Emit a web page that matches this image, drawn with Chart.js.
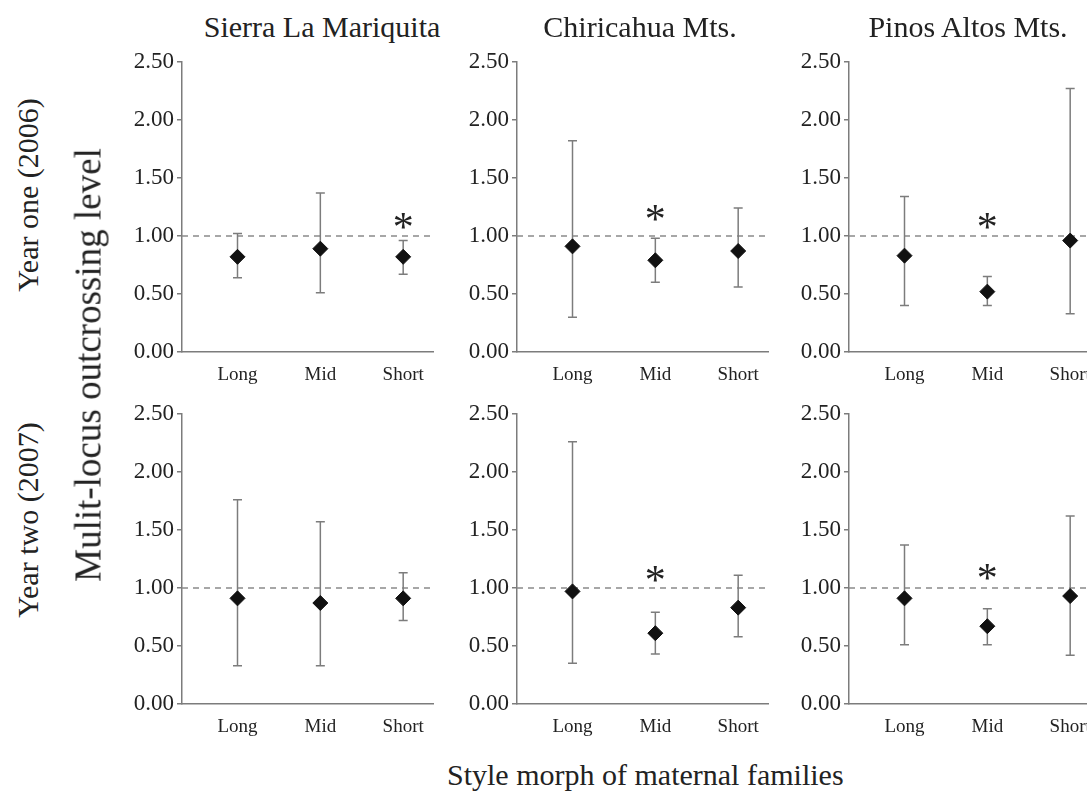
<!DOCTYPE html>
<html><head><meta charset="utf-8">
<script src="https://cdn.jsdelivr.net/npm/chart.js@4.4.1/dist/chart.umd.min.js"></script>
<style>
html,body{margin:0;padding:0;background:#fff;}
body{width:1087px;height:792px;overflow:hidden;position:relative;}
.panel{position:absolute;}
.txt{position:absolute;white-space:nowrap;font-family:"Liberation Serif","Times New Roman",serif;color:#222;line-height:1;}
.ctr{transform:translateX(-50%);}
.rot{transform:translate(-50%,-50%) rotate(-90deg);}
</style></head><body>
<script>
// ---- data ----
const categories = ['Long', 'Mid', 'Short'];
const sites = ['Sierra La Mariquita', 'Chiricahua Mts.', 'Pinos Altos Mts.'];
const years = ['Year one (2006)', 'Year two (2007)'];
const yAxisTitle = 'Mulit-locus outcrossing level';
const xAxisTitle = 'Style morph of maternal families';
const yTickValues = [0, 0.5, 1, 1.5, 2, 2.5];
const refLevel = 1.0;

// per site: [Long, Mid, Short]
const mean2006  = [[0.82, 0.89, 0.82], [0.91, 0.79, 0.87], [0.83, 0.52, 0.96]];
const upper2006 = [[1.02, 1.37, 0.96], [1.82, 0.98, 1.24], [1.34, 0.65, 2.27]];
const lower2006 = [[0.64, 0.51, 0.67], [0.30, 0.60, 0.56], [0.40, 0.40, 0.33]];
const star2006  = [[null, null, 1.13], [null, 1.20, null], [null, 1.13, null]];

const mean2007  = [[0.91, 0.87, 0.91], [0.97, 0.61, 0.83], [0.91, 0.67, 0.93]];
const upper2007 = [[1.76, 1.57, 1.13], [2.26, 0.79, 1.11], [1.37, 0.82, 1.62]];
const lower2007 = [[0.33, 0.33, 0.72], [0.35, 0.43, 0.58], [0.51, 0.51, 0.42]];
const star2007  = [[null, null, null], [null, 1.12, null], [null, 1.14, null]];

// ---- layout ----
const X_MIN = 0.33, X_MAX = 3.36;
const colLeft = [182, 517, 849];
const rowTop = [60, 412];
const PLOT_W = 251, PLOT_H = 292;
const YAXIS_W = 80, XAXIS_H = 35, PAD_T = 15, PAD_R = 10;
const FONT = '"Liberation Serif","Times New Roman",serif';
const AXIS_GRAY = '#7c7c7c';
const TEXT_COL = '#222';

const starPlugin = {
  id: 'stars',
  afterDatasetsDraw(chart, args, opts) {
    const xs = chart.scales.x, ys = chart.scales.y, ctx = chart.ctx;
    ctx.save();
    ctx.font = opts.font;
    ctx.fillStyle = opts.color;
    ctx.textAlign = 'center';
    ctx.textBaseline = 'alphabetic';
    const m = ctx.measureText('*');
    const off = (m.actualBoundingBoxAscent - m.actualBoundingBoxDescent) / 2;
    (opts.values || []).forEach((v, i) => {
      if (v == null) return;
      ctx.fillText('*', xs.getPixelForValue(i + 1), ys.getPixelForValue(v) + off);
    });
    ctx.restore();
  }
};

function addText(str, x, y, size, cls) {
  const d = document.createElement('div');
  d.className = 'txt' + (cls ? ' ' + cls : '');
  d.textContent = str;
  d.style.left = x + 'px';
  d.style.top = y + 'px';
  d.style.fontSize = size + 'px';
  document.body.appendChild(d);
}

function makePanel(r, c) {
  const mean = (r === 0 ? mean2006 : mean2007)[c];
  const upper = (r === 0 ? upper2006 : upper2007)[c];
  const lower = (r === 0 ? lower2006 : lower2007)[c];
  const stars = (r === 0 ? star2006 : star2007)[c];

  const stems = [], caps = [];
  categories.forEach((_, i) => {
    stems.push({x: i + 1, y: lower[i]}, {x: i + 1, y: upper[i]}, {x: i + 1, y: null});
    caps.push({x: i + 1, y: lower[i]}, {x: i + 1, y: upper[i]});
  });
  const pts = mean.map((v, i) => ({x: i + 1, y: v}));

  const W = YAXIS_W + PLOT_W + PAD_R, H = PAD_T + PLOT_H + XAXIS_H;
  const cv = document.createElement('canvas');
  cv.className = 'panel';
  cv.width = W; cv.height = H;
  cv.style.width = W + 'px'; cv.style.height = H + 'px';
  cv.style.left = (colLeft[c] - YAXIS_W) + 'px';
  cv.style.top = (rowTop[r] - PAD_T) + 'px';
  document.body.appendChild(cv);

  new Chart(cv, {
    type: 'scatter',
    data: {
      datasets: [
        {type: 'line', data: [{x: X_MIN, y: refLevel}, {x: X_MAX, y: refLevel}],
         borderColor: '#8a8a8a', borderWidth: 1.5, borderDash: [6, 5], pointRadius: 0, order: 4},
        {type: 'line', data: stems, borderColor: AXIS_GRAY, borderWidth: 1.5,
         pointRadius: 0, spanGaps: false, tension: 0, order: 3},
        {type: 'scatter', data: caps, pointStyle: 'line', pointRadius: 4.5,
         borderColor: AXIS_GRAY, pointBorderColor: AXIS_GRAY, pointBorderWidth: 1.5, order: 2},
        {type: 'scatter', data: pts, pointStyle: 'rectRot', pointRadius: 7.5,
         backgroundColor: '#111', borderColor: '#111', pointBorderWidth: 1, order: 1}
      ]
    },
    options: {
      responsive: false,
      animation: false,
      devicePixelRatio: 1,
      events: [],
      layout: {padding: {top: PAD_T, right: PAD_R, left: 0, bottom: 0}},
      plugins: {
        legend: {display: false},
        tooltip: {enabled: false},
        stars: {values: stars, font: '42px ' + FONT, color: TEXT_COL}
      },
      scales: {
        x: {
          type: 'linear', min: X_MIN, max: X_MAX,
          grid: {display: false},
          border: {display: true, color: AXIS_GRAY, width: 1.5},
          afterBuildTicks: s => { s.ticks = categories.map((_, i) => ({value: i + 1})); },
          afterFit: s => { s.height = XAXIS_H; },
          ticks: {
            callback: v => categories[Math.round(v) - 1] || '',
            font: {family: FONT, size: 19}, color: TEXT_COL, padding: 4,
            maxRotation: 0, autoSkip: false
          }
        },
        y: {
          min: 0, max: 2.5,
          afterBuildTicks: s => { s.ticks = yTickValues.map(v => ({value: v})); },
          afterFit: s => { s.width = YAXIS_W; },
          grid: {display: true, drawOnChartArea: false, drawTicks: true, tickLength: 5,
                 color: AXIS_GRAY, lineWidth: 1.5},
          border: {display: true, color: AXIS_GRAY, width: 1.5},
          ticks: {
            callback: v => Number(v).toFixed(2),
            font: {family: FONT, size: 23}, color: TEXT_COL, padding: 3
          }
        }
      }
    },
    plugins: [starPlugin]
  });
}

for (let r = 0; r < 2; r++) for (let c = 0; c < 3; c++) makePanel(r, c);

// titles
const titleX = [322, 640, 968];
sites.forEach((s, i) => addText(s, titleX[i], 12, 30, 'ctr'));
addText(years[0], 28, 195, 30, 'rot');
addText(years[1], 28, 520, 30, 'rot');
addText(yAxisTitle, 88, 365, 37, 'rot');
addText(xAxisTitle, 447, 760, 30, '');
</script>
</body></html>
